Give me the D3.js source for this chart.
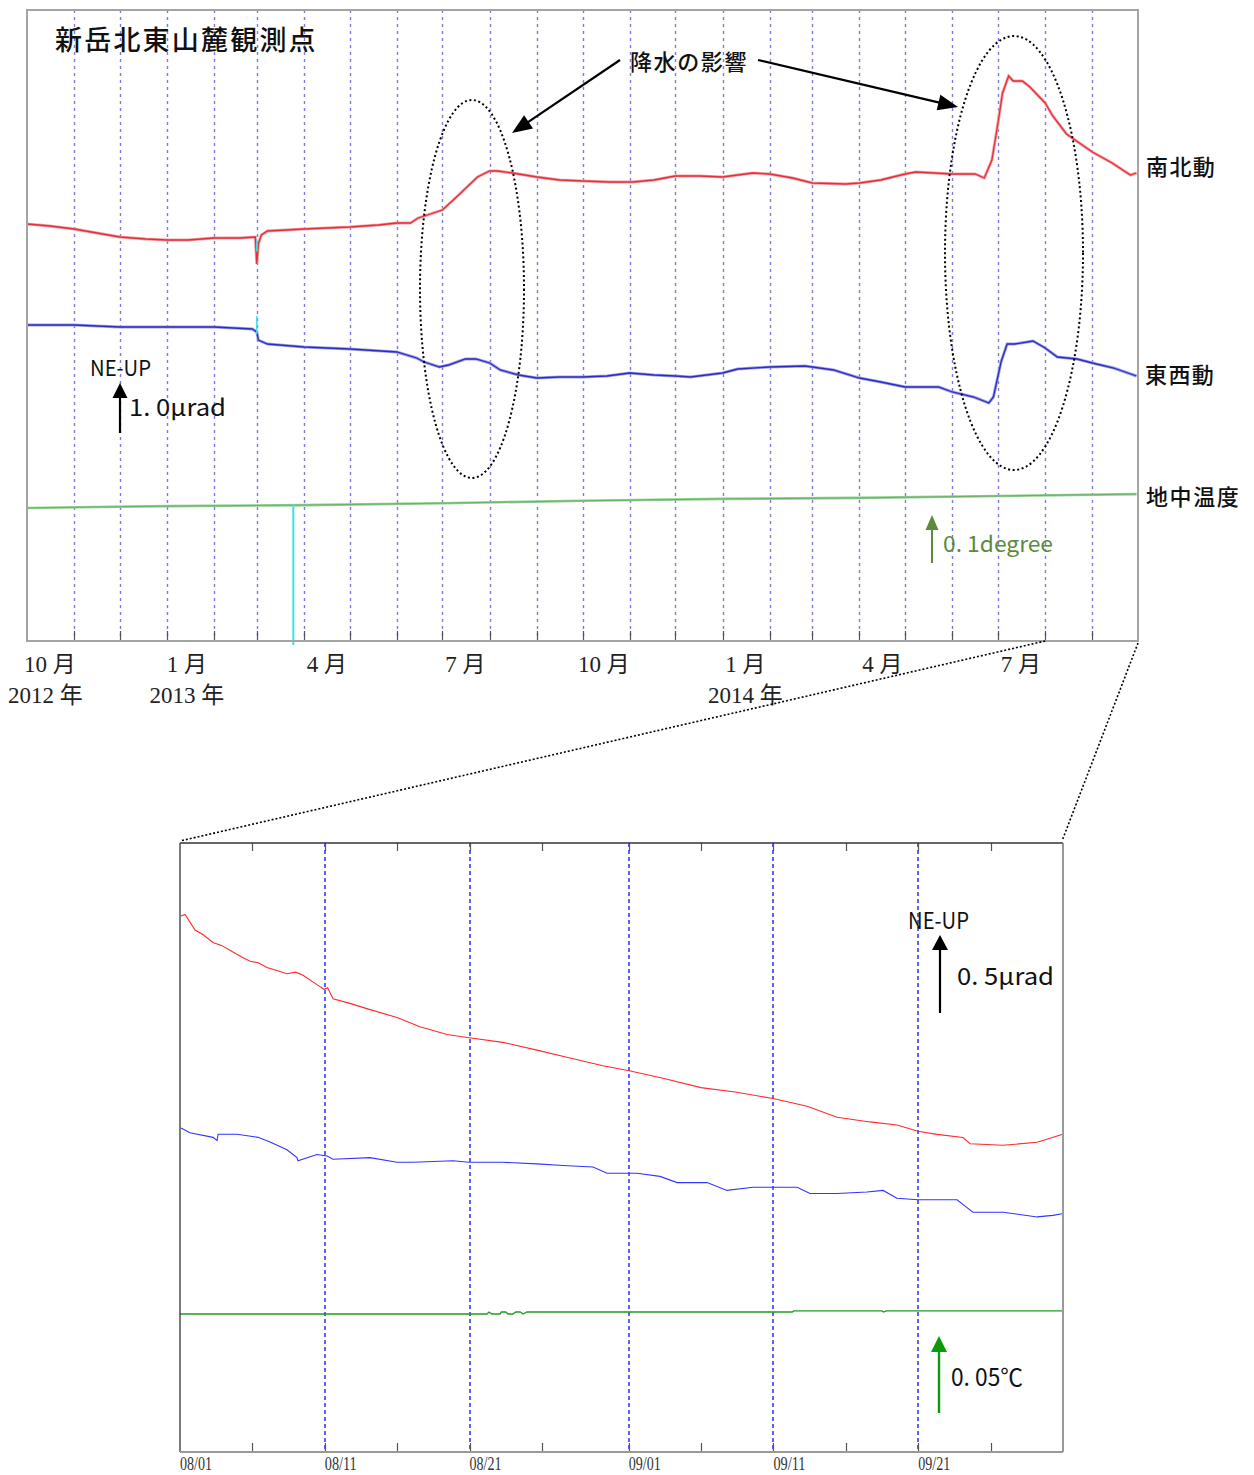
<!DOCTYPE html>
<html>
<head>
<meta charset="utf-8">
<script src="https://d3js.org/d3.v7.min.js"></script>
<style>
	body { margin: 0; background: #fff; }
	svg { display: block; }
</style>
</head>
<body>
<script>
// ---------- data ----------
// overview (Oct 2012 - Sep 2014): tilt in micro-rad relative to first sample
var topNS = [
	["2012-10-01", 0.00], ["2012-10-16", -0.04], ["2012-11-01", -0.10], ["2012-11-16", -0.18],
	["2012-12-01", -0.26], ["2012-12-18", -0.30], ["2013-01-01", -0.32], ["2013-01-15", -0.32],
	["2013-02-01", -0.28], ["2013-02-18", -0.28], ["2013-02-28", -0.26], ["2013-03-01", -0.80],
	["2013-03-02", -0.40], ["2013-03-04", -0.22], ["2013-03-08", -0.14], ["2013-04-01", -0.10],
	["2013-05-01", -0.06], ["2013-05-20", -0.02], ["2013-06-01", 0.02], ["2013-06-10", 0.02],
	["2013-06-15", 0.12], ["2013-07-01", 0.28], ["2013-07-13", 0.62], ["2013-07-24", 0.94],
	["2013-08-01", 1.06], ["2013-08-06", 1.06], ["2013-08-16", 1.02], ["2013-09-01", 0.94],
	["2013-09-16", 0.88], ["2013-10-01", 0.86], ["2013-10-19", 0.84], ["2013-11-03", 0.84],
	["2013-11-17", 0.88], ["2013-12-01", 0.96], ["2013-12-17", 0.96], ["2014-01-01", 0.94],
	["2014-01-21", 1.02], ["2014-02-01", 1.00], ["2014-02-16", 0.92], ["2014-03-01", 0.82],
	["2014-03-23", 0.80], ["2014-04-01", 0.82], ["2014-04-15", 0.88], ["2014-05-01", 1.00],
	["2014-05-08", 1.04], ["2014-06-01", 1.00], ["2014-06-16", 1.00], ["2014-06-22", 0.92],
	["2014-06-27", 1.28], ["2014-07-01", 2.02], ["2014-07-04", 2.62], ["2014-07-08", 2.96],
	["2014-07-11", 2.86], ["2014-07-17", 2.86], ["2014-07-22", 2.74], ["2014-08-01", 2.42],
	["2014-08-06", 2.16], ["2014-08-15", 1.80], ["2014-09-01", 1.44], ["2014-09-14", 1.22],
	["2014-09-26", 0.98], ["2014-09-30", 1.02]
];
var topEW = [
	["2012-10-01", 0.00], ["2012-11-01", 0.00], ["2012-12-01", -0.04], ["2013-01-01", -0.04],
	["2013-02-01", -0.04], ["2013-02-26", -0.08], ["2013-03-01", -0.14], ["2013-03-02", -0.30],
	["2013-03-08", -0.38], ["2013-04-01", -0.44], ["2013-05-01", -0.48], ["2013-06-01", -0.54],
	["2013-06-14", -0.66], ["2013-06-19", -0.74], ["2013-06-29", -0.84], ["2013-07-05", -0.80],
	["2013-07-16", -0.68], ["2013-07-23", -0.68], ["2013-08-01", -0.76], ["2013-08-08", -0.90],
	["2013-08-20", -1.00], ["2013-09-01", -1.06], ["2013-09-16", -1.04], ["2013-10-01", -1.04],
	["2013-10-17", -1.02], ["2013-11-01", -0.96], ["2013-11-17", -1.00], ["2013-12-01", -1.02],
	["2013-12-11", -1.04], ["2014-01-01", -0.96], ["2014-01-11", -0.88], ["2014-02-01", -0.84],
	["2014-02-24", -0.82], ["2014-03-01", -0.84], ["2014-03-15", -0.90], ["2014-04-01", -1.06],
	["2014-04-15", -1.14], ["2014-05-01", -1.24], ["2014-05-23", -1.24], ["2014-06-01", -1.34],
	["2014-06-15", -1.44], ["2014-06-25", -1.56], ["2014-06-28", -1.44], ["2014-07-03", -0.74],
	["2014-07-07", -0.38], ["2014-07-12", -0.38], ["2014-07-24", -0.32], ["2014-08-01", -0.46],
	["2014-08-09", -0.64], ["2014-08-22", -0.68], ["2014-09-01", -0.76], ["2014-09-15", -0.86],
	["2014-09-30", -1.02]
];
// ground temperature, degrees relative to first sample
var topTemp = [
	["2012-10-01", 0.000], ["2012-11-15", 0.002], ["2013-01-01", 0.004], ["2013-04-01", 0.006],
	["2013-07-01", 0.010], ["2013-10-01", 0.015], ["2014-01-01", 0.019], ["2014-04-01", 0.021],
	["2014-07-01", 0.025], ["2014-09-30", 0.029]
];
var topTempGap = ["2013-03-25"];

var topMonthLabels = ["10 月", "1 月", "4 月", "7 月", "10 月", "1 月", "4 月", "7 月"];
var topMonthLabelDates = ["2012-10-16", "2013-01-14", "2013-04-16", "2013-07-16", "2013-10-15", "2014-01-16", "2014-04-16", "2014-07-16"];
var topYearLabels = ["2012 年", "2013 年", "2014 年"];
var topYearLabelDates = ["2012-10-13", "2013-01-14", "2014-01-16"];

// detail (Aug - Sep 2014): [days since 08/01, value]
var detailNS = [
	[0.07, 0.00], [0.35, 0.01], [1.04, -0.09], [1.6, -0.12], [2.28, -0.17], [2.9, -0.19], [3.45, -0.22],
	[4.2, -0.26], [4.84, -0.29], [5.4, -0.30], [6.01, -0.33], [6.7, -0.35], [7.39, -0.37], [8.0, -0.36],
	[8.50, -0.38], [9.46, -0.44], [9.95, -0.47], [10.2, -0.46], [10.57, -0.53], [11.74, -0.56],
	[13.13, -0.60], [14.99, -0.65], [16.58, -0.71], [18.45, -0.76], [19.97, -0.78], [22.31, -0.81],
	[24.66, -0.86], [26.94, -0.91], [29.22, -0.96], [30.95, -0.99], [33.37, -1.04], [35.99, -1.10],
	[38.48, -1.13], [40.97, -1.17], [43.32, -1.22], [45.39, -1.29], [47.67, -1.32], [49.53, -1.34],
	[50.98, -1.38], [52.30, -1.40], [54.09, -1.42], [54.58, -1.46], [56.86, -1.47], [59.21, -1.45],
	[60.93, -1.40]
];
var detailEW = [
	[0.07, 0.00], [0.69, -0.03], [2.28, -0.06], [2.56, -0.08], [2.63, -0.04], [3.94, -0.04],
	[5.39, -0.06], [6.22, -0.09], [7.39, -0.14], [8.08, -0.19], [8.15, -0.21], [9.46, -0.17],
	[10.16, -0.18], [10.57, -0.20], [13.13, -0.19], [14.99, -0.22], [16.10, -0.22], [18.86, -0.21],
	[19.97, -0.22], [22.31, -0.22], [24.66, -0.23], [26.46, -0.24], [28.53, -0.25], [29.50, -0.29],
	[30.95, -0.29], [31.57, -0.29], [33.16, -0.31], [34.34, -0.35], [36.41, -0.35], [37.79, -0.40],
	[39.59, -0.38], [40.97, -0.38], [42.63, -0.38], [43.52, -0.42], [45.39, -0.42], [47.46, -0.41],
	[48.57, -0.40], [49.53, -0.45], [50.98, -0.46], [53.68, -0.46], [54.37, -0.51], [54.78, -0.54],
	[56.86, -0.54], [59.21, -0.57], [60.31, -0.56], [60.93, -0.55]
];
var detailTemp = [
	[0, 0.0000], [21.2, 0.0000], [21.35, 0.0013], [21.55, 0.0000], [22.1, 0.0000], [22.2, 0.0013],
	[22.5, 0.0013], [22.66, 0.0000], [23.0, 0.0000], [23.2, 0.0013], [23.5, 0.0013], [23.7, 0.0000],
	[23.97, 0.0013], [42.3, 0.0013], [42.4, 0.0020], [48.5, 0.0020], [48.6, 0.0013], [48.8, 0.0020],
	[60.93, 0.0020]
];
var detailTickLabels = ["08/01", "08/11", "08/21", "09/01", "09/11", "09/21"];
var detailTickDates = ["2014-08-01", "2014-08-11", "2014-08-21", "2014-09-01", "2014-09-11", "2014-09-21"];

// ---------- setup ----------
var parse = d3.utcParse("%Y-%m-%d");
var detailStart = parse("2014-08-01");
function dayToDate(d) { return new Date(detailStart.getTime() + d * 864e5); }
// snap thin vertical lines to the pixel grid
function crisp(v) { return Math.round(v) + 0.5; }

var svg = d3.select("body").append("svg")
	.attr("width", 1254)
	.attr("height", 1475);

var jp = "'Noto Sans CJK JP', 'Noto Sans', sans-serif";
var serif = "'Liberation Serif', 'DejaVu Serif', 'Noto Sans CJK JP', serif";

// overview frame
var ov = {left: 27, right: 1138, top: 10, bottom: 641};
var xTop = d3.scaleUtc()
	.domain([parse("2012-10-01"), parse("2014-10-01")])
	.range([ov.left, ov.right]);
// 1 micro-rad = 50 px, 0.1 degree = 48 px; trace baselines are layout only
var yNS = d3.scaleLinear().domain([0, 1]).range([224, 174]);
var yEW = d3.scaleLinear().domain([0, 1]).range([325, 275]);
var yT = d3.scaleLinear().domain([0, 0.1]).range([508, 460]);

// detail frame
var det = {left: 180, right: 1063, top: 843, bottom: 1452};
var xDet = d3.scaleUtc()
	.domain([detailStart, parse("2014-10-01")])
	.range([det.left, det.right]);
// 0.5 micro-rad = 78 px, 0.05 degree = 77 px
var yNSd = d3.scaleLinear().domain([0, 1]).range([916, 760]);
var yEWd = d3.scaleLinear().domain([0, 1]).range([1128, 972]);
var yTd = d3.scaleLinear().domain([0, 0.05]).range([1314, 1237]);

// simple arrow with a filled head
function arrow(g, x1, y1, x2, y2, color, headLen, headW, width) {
	var dx = x2 - x1, dy = y2 - y1, len = Math.sqrt(dx * dx + dy * dy);
	var ux = dx / len, uy = dy / len;
	var bx = x2 - ux * headLen, by = y2 - uy * headLen;
	g.append("line")
		.attr("x1", x1).attr("y1", y1)
		.attr("x2", bx + ux * 2).attr("y2", by + uy * 2)
		.attr("stroke", color).attr("stroke-width", width);
	g.append("path")
		.attr("d", "M" + x2 + "," + y2 +
			"L" + (bx - uy * headW / 2) + "," + (by + ux * headW / 2) +
			"L" + (bx + uy * headW / 2) + "," + (by - ux * headW / 2) + "Z")
		.attr("fill", color);
}

function label(x, y, txt, size, opts) {
	opts = opts || {};
	var t = svg.append("text")
		.attr("x", x).attr("y", y)
		.attr("font-family", opts.family || jp)
		.attr("font-size", size)
		.attr("font-weight", opts.weight || 400)
		.attr("fill", opts.color || "#111")
		.attr("text-anchor", opts.anchor || "start")
		.text(txt);
	if (opts.spacing) t.attr("letter-spacing", opts.spacing);
	if (opts.len) t.attr("textLength", opts.len).attr("lengthAdjust", "spacingAndGlyphs");
	return t;
}

// ---------- overview chart ----------
var gTop = svg.append("g");

var monthLines = d3.utcMonth.range(parse("2012-11-01"), parse("2014-10-01"));
gTop.selectAll(".mgrid")
	.data(monthLines)
	.enter().append("line")
	.attr("x1", function(d) { return crisp(xTop(d)); })
	.attr("x2", function(d) { return crisp(xTop(d)); })
	.attr("y1", ov.top)
	.attr("y2", ov.bottom)
	.attr("stroke", "#7c7cdc")
	.attr("stroke-width", 1.4)
	.attr("stroke-dasharray", "3,4");

gTop.selectAll(".mtick")
	.data(monthLines)
	.enter().append("line")
	.attr("x1", function(d) { return crisp(xTop(d)); })
	.attr("x2", function(d) { return crisp(xTop(d)); })
	.attr("y1", ov.bottom - 10)
	.attr("y2", ov.bottom)
	.attr("stroke", "#555")
	.attr("stroke-width", 1.2);

function lineTop(yScale) {
	return d3.line()
		.x(function(d) { return xTop(parse(d[0])); })
		.y(function(d) { return yScale(d[1]); });
}

// temperature: light band with thin darker core
gTop.append("path").datum(topTemp)
	.attr("d", lineTop(yT)).attr("fill", "none")
	.attr("stroke", "#92d092").attr("stroke-width", 2.6);
gTop.append("path").datum(topTemp)
	.attr("d", lineTop(yT)).attr("fill", "none")
	.attr("stroke", "#3c8a3c").attr("stroke-width", 0.8).attr("stroke-opacity", 0.6);

// temperature data gap (cyan)
gTop.selectAll(".gap")
	.data(topTempGap)
	.enter().append("line")
	.attr("x1", function(d) { return xTop(parse(d)); })
	.attr("x2", function(d) { return xTop(parse(d)); })
	.attr("y1", yT(0.006) - 1)
	.attr("y2", ov.bottom + 4)
	.attr("stroke", "#3ee0e8")
	.attr("stroke-width", 2);

gTop.append("path").datum(topNS)
	.attr("d", lineTop(yNS)).attr("fill", "none")
	.attr("stroke", "#f4a0a4").attr("stroke-width", 3);
gTop.append("path").datum(topNS)
	.attr("d", lineTop(yNS)).attr("fill", "none")
	.attr("stroke", "#e0303c").attr("stroke-width", 1.3);

gTop.append("path").datum(topEW)
	.attr("d", lineTop(yEW)).attr("fill", "none")
	.attr("stroke", "#a0a0e8").attr("stroke-width", 3);
gTop.append("path").datum(topEW)
	.attr("d", lineTop(yEW)).attr("fill", "none")
	.attr("stroke", "#2c2cc0").attr("stroke-width", 1.3);

// cyan marks at the March 2013 step
gTop.append("line")
	.attr("x1", xTop(parse("2013-03-01"))).attr("x2", xTop(parse("2013-03-01")))
	.attr("y1", yNS(-0.30)).attr("y2", yNS(-0.55))
	.attr("stroke", "#3ee0e8").attr("stroke-width", 1.5);
gTop.append("line")
	.attr("x1", xTop(parse("2013-03-01"))).attr("x2", xTop(parse("2013-03-01")))
	.attr("y1", yEW(0.18)).attr("y2", yEW(-0.18))
	.attr("stroke", "#3ee0e8").attr("stroke-width", 1.5);

// frame
gTop.append("rect")
	.attr("x", ov.left).attr("y", ov.top)
	.attr("width", ov.right - ov.left).attr("height", ov.bottom - ov.top)
	.attr("fill", "none").attr("stroke", "#a4a4a4").attr("stroke-width", 2);

// axis labels
topMonthLabels.forEach(function(t, i) {
	label(xTop(parse(topMonthLabelDates[i])), 672, t, 23, {family: serif, anchor: "middle", color: "#222"});
});
topYearLabels.forEach(function(t, i) {
	label(xTop(parse(topYearLabelDates[i])), 703, t, 23, {family: serif, anchor: "middle", color: "#222"});
});

// annotations
label(55, 50, "新岳北東山麓観測点", 27, {weight: 500, spacing: 2.2});
label(630, 70, "降水の影響", 22, {weight: 500, spacing: 1.6});
label(1146, 175, "南北動", 22, {weight: 500, spacing: 1.4});
label(1145, 383, "東西動", 22, {weight: 500, spacing: 1.4});
label(1146, 505, "地中温度", 22, {weight: 500, spacing: 1.6});

var ann = svg.append("g");
arrow(ann, 620, 60, 512, 133, "#000", 20, 16, 2.2);
arrow(ann, 758, 60, 958, 107, "#000", 20, 16, 2.2);

ann.append("ellipse")
	.attr("cx", 472).attr("cy", 289).attr("rx", 52).attr("ry", 189)
	.attr("fill", "none").attr("stroke", "#000").attr("stroke-width", 2)
	.attr("stroke-dasharray", "2,2.6");
ann.append("ellipse")
	.attr("cx", 1014).attr("cy", 253).attr("rx", 69).attr("ry", 217)
	.attr("fill", "none").attr("stroke", "#000").attr("stroke-width", 2)
	.attr("stroke-dasharray", "2,2.6");

// scale bars
label(90, 376, "NE-UP", 22, {len: 61});
var b1 = 433;
arrow(ann, 120, b1, 120, b1 - (yNS(0) - yNS(1.0)), "#000", 15, 15, 2.2);
label(129, 416, "1. 0μrad", 23, {len: 97});

var b2 = 563;
arrow(ann, 932, b2, 932, b2 - (yT(0) - yT(0.1)), "#5a8a3a", 15, 13, 2);
label(943, 552, "0. 1degree", 22, {len: 110, color: "#5a8a3a"});

// zoom connectors
ann.append("line").attr("x1", xTop(parse("2014-08-01"))).attr("y1", ov.bottom)
	.attr("x2", det.left).attr("y2", det.top - 2)
	.attr("stroke", "#000").attr("stroke-width", 1.6).attr("stroke-dasharray", "2,2");
ann.append("line").attr("x1", ov.right).attr("y1", ov.bottom + 2)
	.attr("x2", det.right - 1).attr("y2", det.top - 2)
	.attr("stroke", "#000").attr("stroke-width", 1.6).attr("stroke-dasharray", "2,2");

// ---------- detail chart ----------
var gDet = svg.append("g");

var detDays = d3.utcDay.range(parse("2014-08-02"), parse("2014-10-01"))
	.filter(function(d) { return [1, 6, 11, 16, 21, 26].indexOf(d.getUTCDate()) >= 0; });
var detGrid = detDays.filter(function(d) { return [1, 11, 21].indexOf(d.getUTCDate()) >= 0; });

gDet.selectAll(".dgrid")
	.data(detGrid)
	.enter().append("line")
	.attr("x1", function(d) { return Math.round(xDet(d)); })
	.attr("x2", function(d) { return Math.round(xDet(d)); })
	.attr("y1", det.top)
	.attr("y2", det.bottom)
	.attr("stroke", "#3a3aff")
	.attr("stroke-width", 1.6)
	.attr("stroke-dasharray", "4,3");

gDet.selectAll(".dtickT")
	.data(detDays)
	.enter().append("line")
	.attr("x1", function(d) { return crisp(xDet(d)); })
	.attr("x2", function(d) { return crisp(xDet(d)); })
	.attr("y1", det.top)
	.attr("y2", det.top + 8)
	.attr("stroke", "#555").attr("stroke-width", 1.2);
gDet.selectAll(".dtickB")
	.data(detDays)
	.enter().append("line")
	.attr("x1", function(d) { return crisp(xDet(d)); })
	.attr("x2", function(d) { return crisp(xDet(d)); })
	.attr("y1", det.bottom - 9)
	.attr("y2", det.bottom)
	.attr("stroke", "#555").attr("stroke-width", 1.2);

function lineDet(yScale) {
	return d3.line()
		.x(function(d) { return xDet(dayToDate(d[0])); })
		.y(function(d) { return yScale(d[1]); });
}

gDet.append("path").datum(detailTemp)
	.attr("d", lineDet(yTd)).attr("fill", "none")
	.attr("stroke", "#1f9a1f").attr("stroke-width", 1.3);
gDet.append("path").datum(detailNS)
	.attr("d", lineDet(yNSd)).attr("fill", "none")
	.attr("stroke", "#ff2a2a").attr("stroke-width", 1.1);
gDet.append("path").datum(detailEW)
	.attr("d", lineDet(yEWd)).attr("fill", "none")
	.attr("stroke", "#3434ff").attr("stroke-width", 1.1);

// frame: dark left/top, grey right/bottom
gDet.append("line").attr("x1", det.left).attr("x2", det.right).attr("y1", det.top).attr("y2", det.top)
	.attr("stroke", "#333").attr("stroke-width", 1.3);
gDet.append("line").attr("x1", det.left).attr("x2", det.left).attr("y1", det.top).attr("y2", det.bottom)
	.attr("stroke", "#333").attr("stroke-width", 1.3);
gDet.append("line").attr("x1", det.right).attr("x2", det.right).attr("y1", det.top).attr("y2", det.bottom)
	.attr("stroke", "#777").attr("stroke-width", 1.5);
gDet.append("line").attr("x1", det.left).attr("x2", det.right).attr("y1", det.bottom).attr("y2", det.bottom)
	.attr("stroke", "#999").attr("stroke-width", 2);

detailTickLabels.forEach(function(t, i) {
	label(xDet(parse(detailTickDates[i])), 1470, t, 18, {family: serif, len: 32, color: "#333"});
});

label(908, 929, "NE-UP", 23, {len: 61});
var b3 = 1013;
arrow(ann, 940, b3, 940, b3 - (yNSd(0) - yNSd(0.5)), "#000", 15, 16, 2.2);
label(957, 985, "0. 5μrad", 24, {len: 97});

var b4 = 1413;
arrow(ann, 939, b4, 939, b4 - (yTd(0) - yTd(0.05)), "#0a9a0a", 16, 16, 2.4);
label(951, 1386, "0. 05℃", 24, {len: 72});
</script>
</body>
</html>
